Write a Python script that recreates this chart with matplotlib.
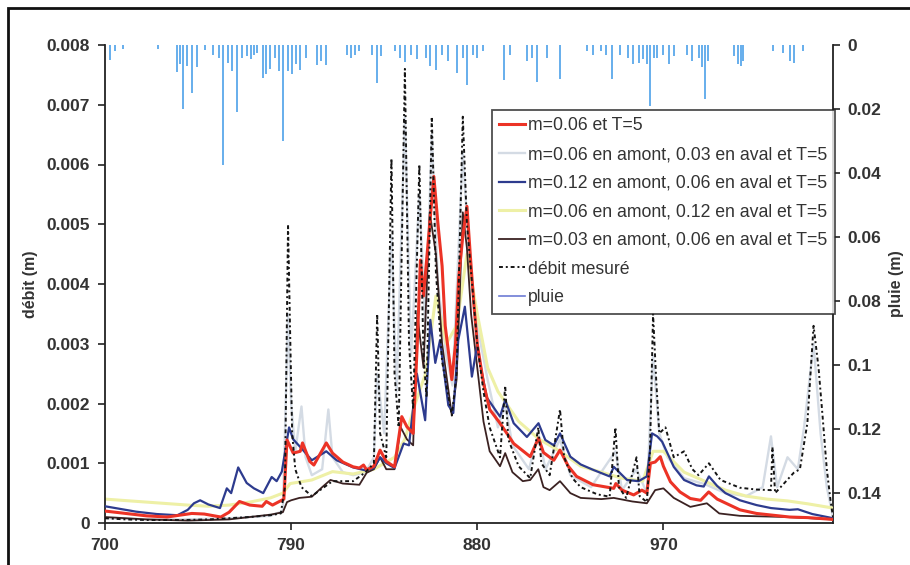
import matplotlib
matplotlib.use("Agg")
import matplotlib.pyplot as plt
from matplotlib.lines import Line2D
from matplotlib.patches import Rectangle

plt.rcParams['font.family'] = ['Liberation Sans', 'DejaVu Sans']

# ---------------- data ----------------
# m=0.06 et T=5
red_x = [700, 710, 720, 730, 742, 748, 756, 760, 765, 770, 776, 778, 781, 786.5, 788, 791, 794.4, 795.5, 799,
         801, 807, 810, 815, 820, 823, 825, 826.5, 830, 833, 836, 840, 843.5, 846, 849, 851, 852.5, 854,
         856, 859, 861, 863, 864.5, 867.7, 869.5, 871, 873, 875, 876.8, 878.5, 880, 883, 886, 891, 897.6,
         905.6, 909.6, 912, 917, 920, 924, 928, 936, 946, 947, 950, 955.6, 959.6, 962, 963.7, 966, 968.5,
         970, 973.4, 978, 983, 988, 991.9, 996, 1007, 1015, 1031, 1040, 1052]
red_y = [0.00020, 0.00016, 0.00012, 0.00010, 0.00016, 0.00015, 0.00010, 0.00018, 0.00036, 0.00030, 0.00028,
         0.00036, 0.00030, 0.00040, 0.00139, 0.00117, 0.00120, 0.00134, 0.00103, 0.00097, 0.00134, 0.00117,
         0.00102, 0.00094, 0.00092, 0.00097, 0.00089, 0.00095, 0.00122, 0.00103, 0.00094, 0.00178, 0.00161,
         0.00150, 0.00300, 0.00440, 0.00380, 0.00460, 0.00580, 0.00500, 0.00430, 0.00330, 0.00240, 0.00300,
         0.00410, 0.00480, 0.00530, 0.00440, 0.00360, 0.00300, 0.00234, 0.00190, 0.00167, 0.00133, 0.00111,
         0.00142, 0.00118, 0.00105, 0.00122, 0.00095, 0.00078, 0.00064, 0.00058, 0.00066, 0.00055, 0.00047,
         0.00055, 0.00050, 0.00100, 0.00102, 0.00111, 0.00095, 0.00069, 0.00052, 0.00041, 0.00038, 0.00052,
         0.00040, 0.00022, 0.00016, 0.00010, 0.00009, 0.00006]

# m=0.06 en amont, 0.03 en aval et T=5
s2_x = [700, 720, 740, 760, 780, 786, 788.5, 790, 792, 795, 797, 800, 805, 808, 810, 815, 820, 826, 830,
        831.6, 835, 838.5, 841, 845, 848, 852, 855, 858, 861, 865, 868, 873, 876, 880, 885, 890, 893.5,
        897, 905, 909.5, 913, 920, 925, 935, 946.8, 950, 957, 962, 965, 968, 972, 980, 990, 1000, 1010,
        1018, 1022, 1025, 1030, 1035, 1038, 1042.6, 1046, 1049, 1052]
s2_y = [0.00008, 0.00006, 0.00006, 0.00008, 0.00012, 0.00020, 0.00350, 0.00200, 0.00120, 0.00195, 0.00110,
        0.00080, 0.00090, 0.00190, 0.00110, 0.00085, 0.00080, 0.00085, 0.00110, 0.00250, 0.00150, 0.00480,
        0.00220, 0.00680, 0.00280, 0.00550, 0.00320, 0.00650, 0.00400, 0.00280, 0.00230, 0.00620, 0.00450,
        0.00330, 0.00240, 0.00160, 0.00200, 0.00130, 0.00090, 0.00150, 0.00090, 0.00140, 0.00080, 0.00060,
        0.00120, 0.00055, 0.00090, 0.00050, 0.00280, 0.00150, 0.00110, 0.00075, 0.00065, 0.00050, 0.00045,
        0.00060, 0.00145, 0.00060, 0.00110, 0.00090, 0.00160, 0.00300, 0.00150, 0.00060, 0.00010]

# m=0.12 en amont, 0.06 en aval et T=5
blue_x = [700, 705, 715, 725, 735, 740, 743, 746, 750, 755.6, 758.9, 761, 764.4, 768.5, 772, 776.5, 780.6, 783,
          785.5, 789, 791, 795, 800, 807, 812, 820, 826, 830, 833, 836, 840, 844.4, 847, 850.8, 854.8,
          857.3, 859.7, 862, 866, 868.4, 870.8, 874, 877.4, 879.8, 884.6, 891, 893.5, 897.6, 904, 909.6,
          912.9, 917, 920, 925, 930, 936, 944, 946, 952.4, 958, 962, 964.5, 967, 969.4, 975, 980, 986,
          989.5, 992, 996, 1000, 1007, 1015, 1022, 1031, 1035, 1042, 1052]
blue_y = [0.00028, 0.00025, 0.00019, 0.00015, 0.00013, 0.00022, 0.00033, 0.00038, 0.00031, 0.00025, 0.00058,
          0.00050, 0.00093, 0.00067, 0.00058, 0.00050, 0.00077, 0.00070, 0.00086, 0.00160, 0.00140, 0.00125,
          0.00105, 0.00120, 0.00105, 0.00093, 0.00088, 0.00092, 0.00110, 0.00100, 0.00092, 0.00133, 0.00130,
          0.00250, 0.00172, 0.00340, 0.00268, 0.00306, 0.00197, 0.00184, 0.00306, 0.00362, 0.00245, 0.00295,
          0.00210, 0.00178, 0.00206, 0.00167, 0.00144, 0.00167, 0.00139, 0.00130, 0.00150, 0.00111, 0.00098,
          0.00089, 0.00078, 0.00094, 0.00072, 0.00070, 0.00078, 0.00150, 0.00145, 0.00136, 0.00094, 0.00072,
          0.00063, 0.00061, 0.00078, 0.00062, 0.00050, 0.00038, 0.00030, 0.00025, 0.00022, 0.00023, 0.00015,
          0.00008]

# m=0.06 en amont, 0.12 en aval et T=5
s4_x = [700, 720, 740, 750, 760, 770, 780, 786, 789.5, 800, 810, 820, 830, 840, 845, 850, 855, 860, 865,
        870, 875, 880, 885, 890, 900, 910, 920, 930, 940, 950, 960, 965, 970, 980, 990, 1000, 1010, 1020,
        1030, 1040, 1052]
s4_y = [0.00040, 0.00035, 0.00030, 0.00028, 0.00030, 0.00035, 0.00042, 0.00050, 0.00066, 0.00072, 0.00086,
        0.00082, 0.00090, 0.00110, 0.00140, 0.00200, 0.00250, 0.00380, 0.00300, 0.00330, 0.00450, 0.00350,
        0.00260, 0.00220, 0.00170, 0.00140, 0.00120, 0.00095, 0.00085, 0.00075, 0.00070, 0.00120, 0.00120,
        0.00085, 0.00070, 0.00055, 0.00045, 0.00040, 0.00037, 0.00032, 0.00025]

# m=0.03 en amont, 0.06 en aval et T=5
s5_x = [700, 720, 740, 760, 770, 780, 786, 788, 790, 794, 800, 805, 809, 815, 823, 826.5, 830, 833, 836,
        840, 843, 846, 849, 851, 854, 857, 860, 863, 867.7, 870, 873, 875, 877, 880, 883, 886, 891, 893.5,
        897, 902, 905.6, 909.5, 912, 915, 920, 925, 930, 940, 946, 955, 962, 966, 970, 975, 983, 991, 997,
        1007, 1030, 1052]
s5_y = [0.00010, 0.00006, 0.00004, 0.00006, 0.00010, 0.00014, 0.00018, 0.00035, 0.00038, 0.00042, 0.00044,
        0.00060, 0.00072, 0.00066, 0.00064, 0.00084, 0.00090, 0.00110, 0.00090, 0.00090, 0.00160, 0.00140,
        0.00130, 0.00350, 0.00260, 0.00520, 0.00450, 0.00300, 0.00180, 0.00240, 0.00520, 0.00460, 0.00350,
        0.00260, 0.00170, 0.00120, 0.00095, 0.00117, 0.00085, 0.00070, 0.00072, 0.00090, 0.00060, 0.00055,
        0.00070, 0.00050, 0.00042, 0.00040, 0.00042, 0.00036, 0.00033, 0.00055, 0.00058, 0.00042, 0.00027,
        0.00033, 0.00016, 0.00012, 0.00010, 0.00006]

# débit mesuré
obs_x = [700, 710, 720, 738, 750, 760, 770, 780, 785, 787, 788.5, 789.5, 790.5, 792, 795, 800, 810, 820,
         826, 830, 831.6, 833, 836, 838.5, 840, 842, 845, 847, 849, 852, 854, 855.5, 858, 860, 863, 867.7,
         870, 873, 875, 877, 880, 883, 886, 891, 893.5, 895, 900, 905.6, 909.5, 911, 915, 920, 922, 926,
         930, 938, 944, 946.8, 948.5, 952, 957, 958.5, 962, 963.5, 965, 966.5, 968, 971, 975, 980, 984,
         987, 992, 997.6, 1007, 1015, 1022, 1022.7, 1024, 1028, 1033, 1036, 1039.6, 1042.6, 1045, 1047,
         1049, 1050.8, 1052]
obs_y = [0.00008, 0.00006, 0.00005, 0.00005, 0.00006, 0.00008, 0.00010, 0.00013, 0.00016, 0.00060, 0.00500,
         0.00320, 0.00150, 0.00090, 0.00060, 0.00045, 0.00070, 0.00070, 0.00085, 0.00100, 0.00350, 0.00150,
         0.00110, 0.00610, 0.00250, 0.00160, 0.00760, 0.00300, 0.00190, 0.00600, 0.00280, 0.00210, 0.00680,
         0.00420, 0.00270, 0.00180, 0.00250, 0.00680, 0.00500, 0.00420, 0.00300, 0.00220, 0.00160, 0.00110,
         0.00230, 0.00140, 0.00095, 0.00075, 0.00160, 0.00100, 0.00080, 0.00190, 0.00110, 0.00075, 0.00060,
         0.00048, 0.00044, 0.00160, 0.00060, 0.00042, 0.00110, 0.00045, 0.00035, 0.00120, 0.00350, 0.00240,
         0.00150, 0.00160, 0.00110, 0.00120, 0.00090, 0.00080, 0.00100, 0.00072, 0.00059, 0.00056, 0.00055,
         0.00127, 0.00050, 0.00065, 0.00084, 0.00090, 0.00167, 0.00330, 0.00260, 0.00177, 0.00090, 0.00038,
         0.00010]

# pluie (right axis, inverted)
rain_x = [702.4, 705, 708.7, 725.6, 735, 736.5, 737.5, 739.5, 742, 744.5, 748.4, 752, 755, 757, 759.5, 761.5,
          763.7, 766, 768.6, 770.5, 772, 773.5, 776.5, 778, 779.8, 782, 784, 786.3, 788.6, 790.5, 792.5,
          794.4, 797, 802.5, 804.5, 807, 817, 819, 821, 823, 829, 831.5, 833.5, 840, 842.7, 845, 848, 851,
          855, 857, 860, 863, 866, 870, 873, 875, 878, 880, 883, 892.7, 896, 904, 906.5, 909, 913.7, 920,
          933, 936, 940, 942, 945, 949, 953, 955.5, 958, 960, 962, 963.7, 965.5, 967, 970, 972.5, 975,
          981.5, 984, 987, 988.5, 990, 991.5, 1004, 1006, 1007.5, 1008.7, 1023, 1028, 1031, 1033, 1037.7]
rain_v = [0.0047, 0.002, 0.0012, 0.0012, 0.0083, 0.006, 0.020, 0.0065, 0.015, 0.0068, 0.0015, 0.003, 0.004,
          0.0375, 0.0055, 0.008, 0.0208, 0.004, 0.0035, 0.0045, 0.003, 0.0025, 0.0104, 0.009, 0.0075, 0.004,
          0.008, 0.030, 0.008, 0.009, 0.006, 0.0077, 0.004, 0.0063, 0.005, 0.0063, 0.003, 0.004, 0.0031,
          0.002, 0.003, 0.012, 0.0035, 0.002, 0.004, 0.0052, 0.003, 0.0045, 0.004, 0.0066, 0.0078, 0.003,
          0.005, 0.0086, 0.004, 0.0125, 0.003, 0.004, 0.002, 0.011, 0.003, 0.005, 0.004, 0.0115, 0.004,
          0.0107, 0.002, 0.003, 0.002, 0.003, 0.0107, 0.003, 0.004, 0.006, 0.0055, 0.0045, 0.006, 0.019,
          0.004, 0.004, 0.003, 0.006, 0.0035, 0.003, 0.005, 0.004, 0.007, 0.017, 0.005, 0.0035, 0.006,
          0.0065, 0.005, 0.002, 0.0025, 0.005, 0.0055, 0.002]

labels = ["m=0.06 et T=5",
          "m=0.06 en amont, 0.03 en aval et T=5",
          "m=0.12 en amont, 0.06 en aval et T=5",
          "m=0.06 en amont, 0.12 en aval et T=5",
          "m=0.03 en amont, 0.06 en aval et T=5",
          "débit mesuré",
          "pluie"]
x_ticks = [700, 790, 880, 970]
left_ticks = [0, 0.001, 0.002, 0.003, 0.004, 0.005, 0.006, 0.007, 0.008]
left_ticklabels = ["0", "0.001", "0.002", "0.003", "0.004", "0.005", "0.006", "0.007", "0.008"]
right_ticks = [0, 0.02, 0.04, 0.06, 0.08, 0.1, 0.12, 0.14]
right_ticklabels = ["0", "0.02", "0.04", "0.06", "0.08", "0.1", "0.12", "0.14"]

# ---------------- figure ----------------
fig = plt.figure(figsize=(9.1, 5.65), dpi=100)
ax = fig.add_axes([105 / 910, 1 - 523 / 565, (833 - 105) / 910, (523 - 45) / 565])
ax2 = ax.twinx()

tc = '#333333'
c_red = '#ec3326'
c_s2 = '#d4dbe4'
c_blue = '#2d3b8e'
c_s4 = '#eef0a6'
c_s5 = '#3b2222'
c_obs = '#151515'
c_rain = '#5aa8ea'

# rain on inverted right axis
ax2.vlines(rain_x, 0, rain_v, color=c_rain, lw=1.3, zorder=1)
ax2.set_ylim(0.1494, 0)
ax2.set_yticks(right_ticks)
ax2.set_yticklabels(right_ticklabels)

ax.set_zorder(ax2.get_zorder() + 1)
ax.patch.set_visible(False)

h2, = ax.plot(s2_x, s2_y, color=c_s2, lw=1.7, zorder=2)
h4, = ax.plot(s4_x, s4_y, color=c_s4, lw=2.2, zorder=2)
h5, = ax.plot(s5_x, s5_y, color=c_s5, lw=1.3, zorder=3)
hb, = ax.plot(blue_x, blue_y, color=c_blue, lw=1.6, zorder=4)
hr, = ax.plot(red_x, red_y, color=c_red, lw=2.2, zorder=5)
ho, = ax.plot(obs_x, obs_y, color=c_obs, lw=1.4, ls=(0, (2, 1.5, 1, 1.5)), zorder=6)

ax.set_xlim(700, 1052)
ax.set_ylim(0, 0.008)
ax.set_xticks(x_ticks)
ax.set_yticks(left_ticks)
ax.set_yticklabels(left_ticklabels)

for a in (ax, ax2):
    a.spines['top'].set_visible(False)
    for s in a.spines.values():
        s.set_linewidth(1.3)
        s.set_color('#222222')
ax.spines['right'].set_visible(False)
ax2.spines['left'].set_visible(False)
ax2.spines['bottom'].set_visible(False)

for lab in ax.get_xticklabels() + ax.get_yticklabels() + ax2.get_yticklabels():
    lab.set_fontsize(12.5)
    lab.set_fontweight('bold')
    lab.set_color(tc)
ax.tick_params(axis='both', direction='out', length=5, width=1.2, color='#222222', pad=6)
ax2.tick_params(axis='y', direction='out', length=5, width=1.2, color='#222222', pad=5)

ax.set_ylabel("débit (m)", fontsize=11.5, fontweight='bold', color=tc, labelpad=6)
ax2.set_ylabel("pluie (m)", fontsize=11.5, fontweight='bold', color=tc, labelpad=6)

rain_handle = Line2D([], [], color='#6d7bd4', lw=1.2)
leg = ax.legend([hr, h2, hb, h4, h5, ho, rain_handle], labels,
                loc='upper right', bbox_to_anchor=(835 / 910, 1 - 110 / 565),
                bbox_transform=fig.transFigure, borderaxespad=0,
                prop=dict(family='Liberation Sans', size=12.7), frameon=True, fancybox=False,
                handlelength=1.45, handletextpad=0.2, labelspacing=0.66, borderpad=0.42)
leg.get_frame().set_edgecolor('#222222')
leg.get_frame().set_linewidth(1.3)
for t in leg.get_texts():
    t.set_color(tc)
leg.set_zorder(20)

# outer chart border
fig.add_artist(Rectangle((8 / 910, -0.01), 1.2, 1 - 8 / 565 + 0.01, transform=fig.transFigure,
                         fill=False, edgecolor='#111111', lw=2.0))

fig.savefig("out.png", dpi=100)
